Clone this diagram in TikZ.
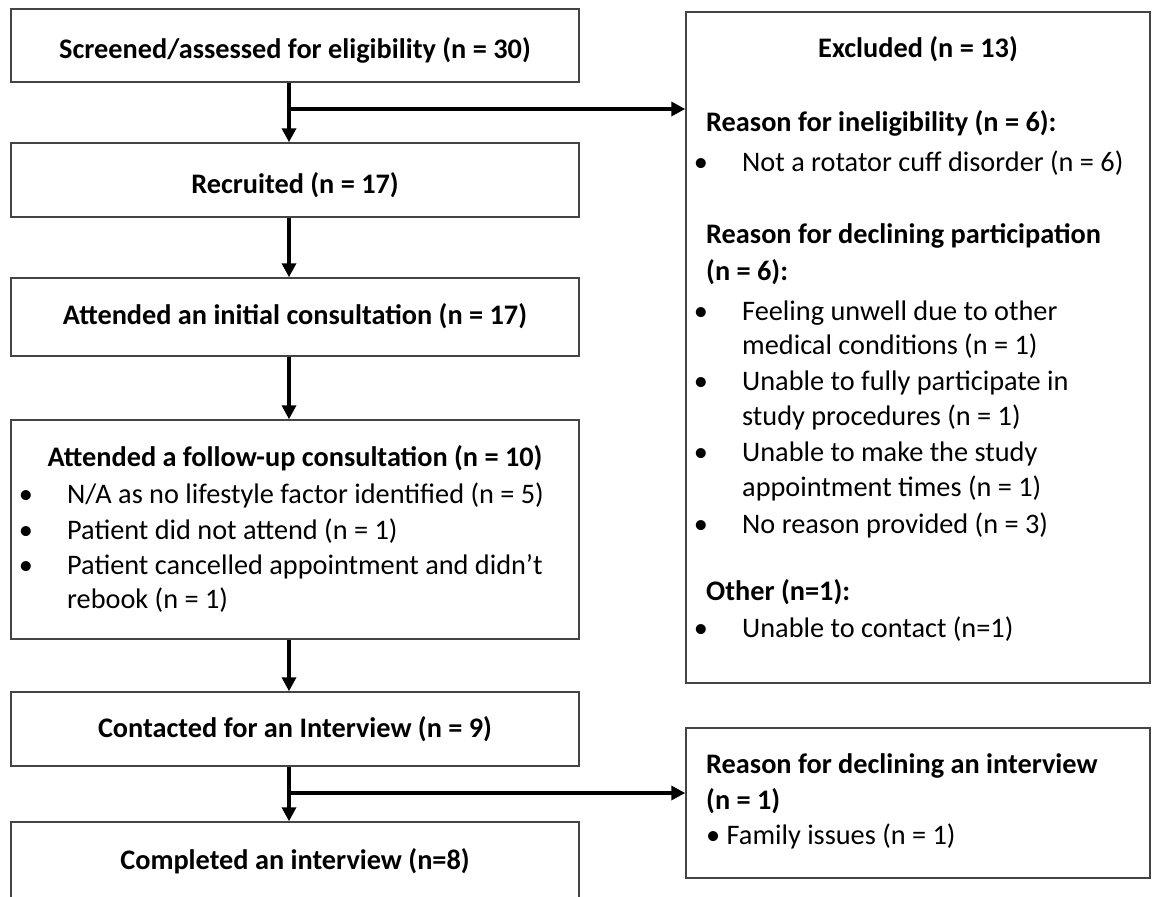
\documentclass[tikz,border=0pt]{standalone}
\usepackage{fontspec}
\setmainfont{Carlito}
\usetikzlibrary{arrows.meta}
\definecolor{edge}{HTML}{444444}
\tikzset{
  every node/.style={font=\fontsize{28.3pt}{35.3pt}\selectfont},
  box/.style={draw=edge, line width=1.5pt, inner sep=0pt, fill=white},
  leftbox/.style={box, minimum width=568pt},
  rightbox/.style={box, minimum width=464pt},
  flow/.style={line width=3.5pt, -{Triangle[length=14pt,width=14pt]}},
  branch/.style={line width=3.5pt, -{Triangle[length=14pt,width=14pt]}},
  txt/.style={inner sep=0pt, text height=21pt, text depth=6pt},
  head/.style={txt, font=\fontsize{28.3pt}{35.3pt}\selectfont\bfseries},
  item/.style={txt, anchor=west},
  headl/.style={head, anchor=west},
  dot/.style={txt, anchor=center},
}
\begin{document}
\begin{tikzpicture}[x=1pt,y=-1pt]
\useasboundingbox (0,0) rectangle (1152,897);
\fill[white] (0,0) rectangle (1152,897);
\clip (0,0) rectangle (1152,897);

% main column boxes
\node[leftbox, minimum height=73pt]  (screen)   at (295,45.5)  {};
\node[leftbox, minimum height=74pt]  (recruit)  at (295,180)   {};
\node[leftbox, minimum height=78pt]  (initial)  at (295,317)   {};
\node[leftbox, minimum height=219pt] (followup) at (295,529.5) {};
\node[leftbox, minimum height=74pt]  (contact)  at (295,729)   {};
\node[leftbox, minimum height=100pt] (complete) at (295,872)   {};

% side boxes
\node[rightbox, minimum height=671pt] (excluded) at (918,347.5) {};
\node[rightbox, minimum height=150pt] (decline)  at (918,803)   {};

% main column texts
\node[head] (tscreen)   at (295,51)  {Screened/assessed for eligibility (n = 30)};
\node[head] (trecruit)  at (295,186) {Recruited (n = 17)};
\node[head] (tinitial)  at (295,317) {Attended an initial consultation (n = 17)};
\node[head] (tfollow)   at (295,459) {Attended a follow-up consultation (n = 10)};
\node[dot]  (fb1) at (26,496) {•};
\node[item] (f1)  at (67,496) {N/A as no lifestyle factor identified (n = 5)};
\node[dot]  (fb2) at (26,532) {•};
\node[item] (f2)  at (67,532) {Patient did not attend (n = 1)};
\node[dot]  (fb3) at (26,567) {•};
\node[item] (f3)  at (67,567) {Patient cancelled appointment and didn’t};
\node[item] (f3b) at (67,601) {rebook (n = 1)};
\node[head] (tcontact)  at (295,730) {Contacted for an Interview (n = 9)};
\node[head] (tcomplete) at (295,862) {Completed an interview (n=8)};

% exclusion texts
\node[head]  (texcl) at (918,50) {Excluded (n = 13)};
\node[headl] (e1)  at (706,124) {Reason for ineligibility (n = 6):};
\node[dot]   (eb1) at (701,164) {•};
\node[item]  (e1a) at (742,164) {Not a rotator cuff disorder (n = 6)};
\node[headl] (e2)  at (706,236) {Reason for declining participation};
\node[headl] (e2b) at (706,273) {(n = 6):};
\node[dot]   (eb2) at (701,313) {•};
\node[item]  (e2c) at (742,313) {Feeling unwell due to other};
\node[item]  (e2d) at (742,347) {medical conditions (n = 1)};
\node[dot]   (eb3) at (701,383) {•};
\node[item]  (e2e) at (742,383) {Unable to fully participate in};
\node[item]  (e2f) at (742,418) {study procedures (n = 1)};
\node[dot]   (eb4) at (701,454) {•};
\node[item]  (e2g) at (742,454) {Unable to make the study};
\node[item]  (e2h) at (742,489) {appointment times (n = 1)};
\node[dot]   (eb5) at (701,526) {•};
\node[item]  (e2i) at (742,526) {No reason provided (n = 3)};
\node[headl] (e3)  at (706,593) {Other (n=1):};
\node[dot]   (eb6) at (701,630) {•};
\node[item]  (e3a) at (742,630) {Unable to contact (n=1)};

% interview refusal texts
\node[headl] (d1) at (706,766) {Reason for declining an interview};
\node[headl] (d2) at (706,802) {(n = 1)};
\node[item]  (d3) at (706,837) {• Family issues (n = 1)};

% connectors
\coordinate (trunk) at (289,0);
\coordinate (split1) at (289,109);
\coordinate (split2) at (289,793);
\draw[flow] (screen.south -| trunk)   -- (recruit.north -| trunk);
\draw[flow] (recruit.south -| trunk)  -- (initial.north -| trunk);
\draw[flow] (initial.south -| trunk)  -- (followup.north -| trunk);
\draw[flow] (followup.south -| trunk) -- (contact.north -| trunk);
\draw[flow] (contact.south -| trunk)  -- (complete.north -| trunk);
\draw[branch] (split1) -- (split1 -| excluded.west);
\draw[branch] (split2) -- (split2 -| decline.west);
\end{tikzpicture}
\end{document}
